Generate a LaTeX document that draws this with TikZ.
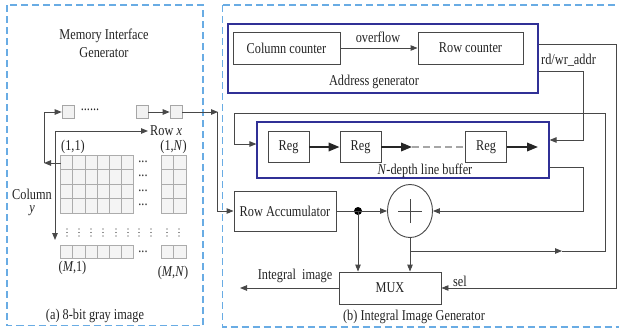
\documentclass[tikz,border=0pt]{standalone}
\usepackage{fontspec}
\setmainfont{Liberation Serif}[FakeStretch=0.82]
\usetikzlibrary{arrows.meta,shapes.geometric}
\definecolor{panelblue}{RGB}{105,172,228}
\definecolor{grpblue}{RGB}{48,48,150}
\definecolor{ln}{RGB}{72,72,72}
\definecolor{txt}{RGB}{35,35,35}
\begin{document}
\begin{tikzpicture}[x=1pt,y=-1pt,
  font=\fontsize{15}{18}\selectfont, text=txt,
  panel/.style={draw=panelblue, line width=1.2pt, dash pattern=on 7pt off 4pt},
  grp/.style={draw=grpblue, line width=1.2pt, minimum width=#1, inner sep=0pt},
  blk/.style={draw=ln, line width=0.9pt, fill=white, inner sep=0pt},
  sq/.style={draw=gray!70, line width=0.6pt, fill=gray!10, minimum width=12pt, minimum height=13pt, inner sep=0pt},
  cell/.style={draw=gray!65, line width=0.6pt, fill=gray!9},
  line/.style={draw=ln, line width=0.9pt},
  conn/.style={draw=ln, line width=0.9pt, -{Triangle[length=7pt,width=5.5pt]}},
  fat/.style={draw=black!85, line width=2pt, -{Triangle[length=11pt,width=8.5pt]}},
  vdot/.style={fill=txt, circle, inner sep=0pt, minimum size=1.3pt},
  lbl/.style={inner sep=0pt}
]
\useasboundingbox (0,0) rectangle (619,330);

% ---------- panels
\draw[panel] (7,5) rectangle (203,325.5);
\draw[panel] (222.5,5) rectangle (630,327);

% ---------- left panel
\node[lbl, align=center] (mig) at (104,43) {Memory Interface\\Generator};

\node[sq] (sq1) at (68,112) {};
\node[sq] (sq2) at (142,112) {};
\node[sq] (sq3) at (176,112) {};
\node[lbl] (dots0) at (90,110) {......};
\draw[conn] (sq2) -- (sq3);

% grid
\foreach \i in {0,...,5}{
  \foreach \j in {0,...,3}{
    \draw[cell] (60.5+12.2*\i,155+14.5*\j) rectangle ++(12.2,14.5);
  }
  \draw[cell] (60.5+12.2*\i,245) rectangle ++(12.2,13);
}
\foreach \i in {0,1}{
  \foreach \j in {0,...,3}{
    \draw[cell] (161+12.5*\i,155+14.5*\j) rectangle ++(12.5,14.5);
  }
  \draw[cell] (161+12.5*\i,245) rectangle ++(12.5,13);
}
\foreach \y [count=\k] in {162,176,191,205,252}{
  \node[lbl] (hd\k) at (143,\y) {...};
}
\foreach \x in {67,79,91,103,116,128,139,151,167,179}{
  \foreach \y in {229,232.5,236}{
    \node[vdot] at (\x,\y) {};
  }
}

\node[lbl] (l11) at (73,147) {(1,1)};
\node[lbl] (l1n) at (173.5,147) {(1,\textit{N})};
\node[lbl] (lm1) at (72.5,268) {(\textit{M},1)};
\node[lbl] (lmn) at (173,273) {(\textit{M},\textit{N})};

\coordinate (g11) at (60.5,163);
\coordinate (cl1) at (44,163);
\draw[conn] (g11) -- (cl1);
\draw[conn] (cl1) -- (cl1 |- sq1) -- (sq1.west);

\coordinate (cr0) at (55,131);
\coordinate (cr1) at (148,131);
\coordinate (cc1) at (55,240);
\draw[conn] (cr0) -- (cr1);
\draw[conn] (cr0) -- (cc1);
\node[lbl, anchor=west] (rowx) at (150,131) {Row \textit{x}};
\node[lbl] (colt) at (32,194) {Column};
\node[lbl] (coly) at (32,211) {\textit{y}};

\node[lbl] (capa) at (95,316) {(a) 8-bit gray image};

% ---------- right panel
\node[grp=310pt, minimum height=69pt] (addr) at (383,58.5) {};
\node[blk, minimum width=107pt, minimum height=32pt] (colc) at (286.5,48) {Column counter};
\node[blk, minimum width=105pt, minimum height=32pt] (rowc) at (470.5,48) {Row counter};
\node[lbl] (ovf) at (378,37) {overflow};
\draw[conn] (colc) -- (rowc);
\node[lbl] (addrl) at (374,82) {Address generator};

\node[grp=292pt, minimum height=56pt] (buf) at (403,150) {};
\node[blk, minimum width=41pt, minimum height=31pt] (reg1) at (288.5,147) {Reg};
\node[blk, minimum width=41pt, minimum height=31pt] (reg2) at (360.5,147) {Reg};
\node[blk, minimum width=41pt, minimum height=31pt] (reg3) at (486,147) {Reg};
\coordinate (dash0) at (412,147);
\coordinate (bufout) at (538,147);
\draw[fat] (reg1) -- (reg2);
\draw[fat] (reg2) -- (dash0);
\draw[draw=gray!70, line width=1.3pt, dash pattern=on 7pt off 4pt] (dash0) -- (reg3.west);
\draw[fat] (reg3) -- (bufout);
\node[lbl] (bufl) at (425,171) {\textit{N}-depth line buffer};

\node[blk, minimum width=102pt, minimum height=40pt] (racc) at (285,211) {Row Accumulator};
\node[draw=ln, line width=0.9pt, ellipse, minimum width=45pt, minimum height=53pt, inner sep=0pt] (plus) at (410,211) {};
\draw[line] ([xshift=-12pt]plus.center) -- ([xshift=12pt]plus.center);
\draw[line] ([yshift=-12pt]plus.center) -- ([yshift=12pt]plus.center);
\node[fill=black, circle, inner sep=0pt, minimum width=8pt] (dot) at (358,211) {};
\node[blk, minimum width=102pt, minimum height=32pt] (mux) at (390,288) {MUX};

% input from memory interface
\coordinate (ci1) at (218,112);
\coordinate (ci2) at (217,211);
\draw[conn] (sq3.east) -- (ci1);
\draw[conn] (217,112) -- (ci2) -- (racc.west);

% row accumulator -> dot -> plus / mux
\draw[line] (racc.east) -- (dot.center);
\draw[conn] (dot.center) -- (plus.west);
\draw[conn] (dot.center) -- (dot |- mux.north);
\draw[conn] (plus.south) -- (plus.south |- mux.north);

% feedback into line buffer
\coordinate (fb0) at (410,251);
\coordinate (fbm) at (562,251);
\coordinate (fb1) at (605,251);
\coordinate (fb2) at (605,113);
\coordinate (fb3) at (234,113);
\coordinate (fb4) at (234,144);
\draw[conn] (fb0) -- (fbm);
\draw[conn] (fbm) -- (fb1) -- (fb2) -- (fb3) -- (fb4) -- (buf.west |- fb4);

% rd/wr address
\coordinate (rw1) at (583,71);
\coordinate (rw2) at (583,140);
\draw[conn] (addr.east |- rw1) -- (rw1) -- (rw2) -- (buf.east |- rw2);
\node[lbl, anchor=west] (rwl) at (541,60) {rd/wr\_addr};

% line buffer output -> plus
\coordinate (bo1) at (583,167);
\coordinate (bo2) at (583,211);
\draw[conn] (buf.east |- bo1) -- (bo1) -- (bo2) -- (plus.east);

% sel
\coordinate (se1) at (616,44);
\coordinate (se2) at (616,288);
\draw[conn] (addr.east |- se1) -- (se1) -- (se2) -- (mux.east);
\node[lbl] (sell) at (460,281) {sel};

% output
\coordinate (out) at (240,288);
\draw[conn] (mux.west) -- (out);
\node[lbl] (outl) at (295,276) {Integral~~image};

\node[lbl] (capb) at (414,317) {(b) Integral Image Generator};
\end{tikzpicture}
\end{document}
